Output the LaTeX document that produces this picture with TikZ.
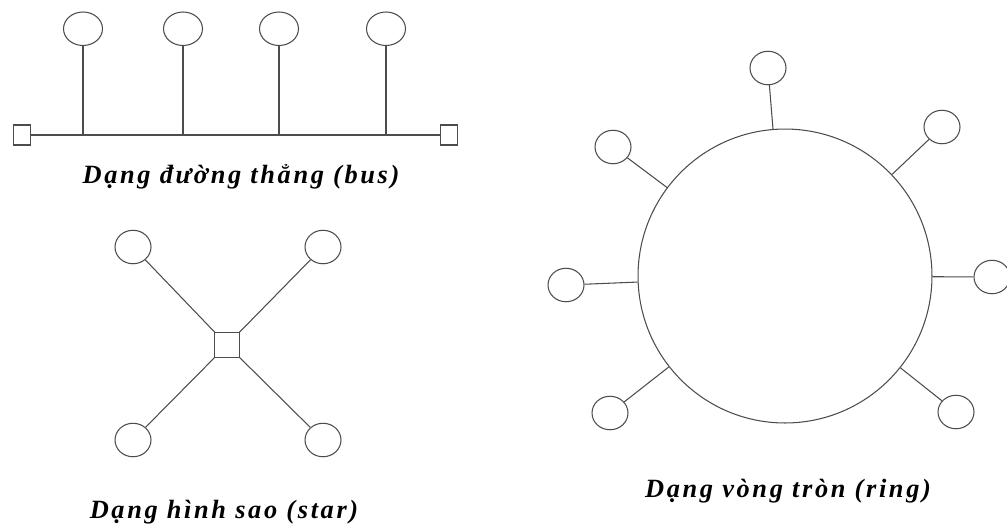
\documentclass[tikz,border=0pt]{standalone}
\usepackage{fontspec}
\newfontfamily\capfont{Liberation Serif}[LetterSpace=10]
\usetikzlibrary{shapes.geometric, positioning}

\tikzset{
  host/.style={ellipse, draw, minimum width=0.72cm, minimum height=0.67cm, inner sep=0pt},
  term/.style={rectangle, draw, minimum width=0.34cm, minimum height=0.4cm, inner sep=0pt},
  hub/.style={rectangle, draw, minimum size=0.49cm, inner sep=0pt},
  captxt/.style={font=\capfont\bfseries\itshape\fontsize{15}{17}\selectfont, text=black, inner sep=0pt, anchor=base}
}

\begin{document}
\begin{tikzpicture}[x=0.02cm, y=-0.02cm, node distance=1.78cm, color=black!70, line width=0.6pt]
    \useasboundingbox (0,0) rectangle (1007,525);

    % bus
    \coordinate (b1) at (83,135);
    \coordinate (b2) at (183,135);
    \coordinate (b3) at (279,135);
    \coordinate (b4) at (386,135);
    \node[term] (t1) at (22,135) {};
    \node[term] (t2) at (449,135) {};
    \node[host, minimum width=0.78cm] (h1) [above=of b1] {};
    \node[host, minimum width=0.78cm] (h2) [above=of b2] {};
    \node[host, minimum width=0.78cm] (h3) [above=of b3] {};
    \node[host, minimum width=0.78cm] (h4) [above=of b4] {};
    \node[captxt] (busname) at (241,183) {Dạng đường thẳng (bus)};

    \draw (t1) -- (t2);
    \path
    (h1) edge (b1)
    (h2) edge (b2)
    (h3) edge (b3)
    (h4) edge (b4);

    % star
    \node[hub] (c) at (227,345) {};
    \node[host] (s1) at (133,247) {};
    \node[host] (s2) at (323,247) {};
    \node[host] (s3) at (133,440) {};
    \node[host] (s4) at (323,440) {};
    \node[captxt] (starname) at (224,518) {Dạng hình sao (star)};

    \path
    (c) edge (s1)
        (c) edge (s2)
    (c) edge (s3)
        (c) edge (s4);

    % ring
    \node[circle, draw, minimum size=5.88cm, inner sep=0pt] (ring) at (785,276) {};
    \node[host] (r1) at (768,68) {};
    \node[host] (r2) at (942,127) {};
    \node[host] (r3) at (992,277) {};
    \node[host] (r4) at (956,412) {};
    \node[host] (r5) at (610,413) {};
    \node[host] (r6) at (566,285) {};
    \node[host] (r7) at (613,147) {};
    \node[captxt] (ringname) at (788,497) {Dạng vòng tròn (ring)};

    \path
    (ring) edge (r1)
        (ring) edge (r2)
    (ring) edge (r3)
        (ring) edge (r4)
    (ring) edge (r5)
        (ring) edge (r6)
    (ring) edge (r7);
\end{tikzpicture}
\end{document}
